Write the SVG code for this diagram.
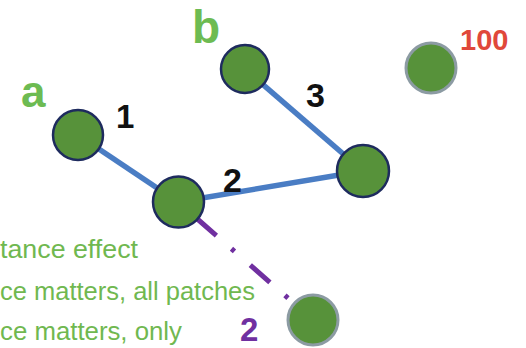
<svg xmlns="http://www.w3.org/2000/svg" width="526" height="348" viewBox="0 0 526 348">
<style>
.node{fill:#57923A;stroke:#1E2B5E;stroke-width:2.5}
.node.gray{stroke:#8C9BA3;stroke-width:3}
.edge{stroke:#4A7DC4;stroke-width:5.5;fill:none}
.dash{stroke:#7030A0;stroke-width:5;fill:none;stroke-dasharray:26 20 4 21}
.lbl{font-family:"Liberation Sans",Arial,sans-serif;font-weight:bold}
.green{fill:#6DBB52}
.num{fill:#111111}
.note{font-family:"Liberation Sans",Arial,sans-serif;font-size:26px;fill:#70B850}
</style>
<rect width="526" height="348" fill="#ffffff"/>
<g id="connectors">
<line class="edge" x1="78" y1="135" x2="178" y2="202"/>
<line class="edge" x1="178" y1="202" x2="363" y2="171"/>
<line class="edge" x1="245" y1="69" x2="363" y2="171"/>
<line class="dash" x1="196.8" y1="218.5" x2="292.5" y2="302"/>
</g>
<g id="node-a"><circle class="node" cx="78" cy="135" r="25"/></g>
<g id="node-b"><circle class="node" cx="245" cy="69" r="24"/></g>
<g id="node-100"><circle class="node gray" cx="431" cy="68" r="25"/></g>
<g id="node-right"><circle class="node" cx="363" cy="171" r="26"/></g>
<g id="node-mid"><circle class="node" cx="178.5" cy="202" r="25.5"/></g>
<g id="node-bottom"><circle class="node gray" cx="313" cy="320" r="25"/></g>
<g id="labels">
<text class="lbl green" x="21" y="107" font-size="44">a</text>
<text class="lbl green" x="192" y="43" font-size="46">b</text>
<text class="lbl num" x="116" y="128" font-size="33">1</text>
<text class="lbl num" x="223" y="192" font-size="34">2</text>
<text class="lbl num" x="306" y="107" font-size="34">3</text>
<text class="lbl" x="460" y="50" font-size="29" fill="#E0483A">100</text>
<text class="lbl" x="240" y="341" font-size="33" fill="#7030A0">2</text>
</g>
<g id="notes">
<text class="note" x="0" y="258" textLength="138" lengthAdjust="spacingAndGlyphs">tance effect</text>
<text class="note" x="0" y="300" textLength="255" lengthAdjust="spacingAndGlyphs">ce matters, all patches</text>
<text class="note" x="0" y="340" textLength="182" lengthAdjust="spacingAndGlyphs">ce matters, only</text>
</g>
</svg>
